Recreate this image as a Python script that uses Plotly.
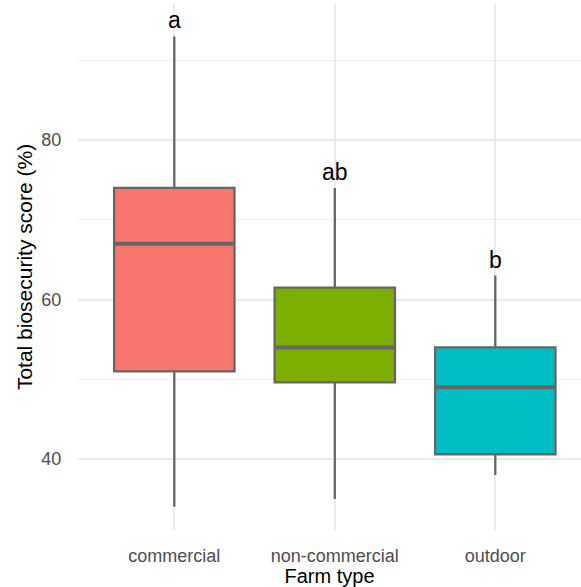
import plotly.graph_objects as go

# Summary statistics of total biosecurity score by farm type
farm_types = ["commercial", "non-commercial", "outdoor"]
lower_whisker = [34, 35, 38]
q1 = [51, 49.6, 40.6]
median = [67, 54, 49]
q3 = [74, 61.5, 54]
upper_whisker = [93, 74, 63]
group_letters = ["a", "ab", "b"]
fill_colors = ["#F8766D", "#7CAE00", "#00BFC4"]

FONT = "Liberation Sans, Arial, sans-serif"
EDGE = "#666666"
BOX_WIDTH = 0.75

fig = go.Figure()

for i, name in enumerate(farm_types):
    fig.add_trace(go.Box(
        x=[i],
        q1=[q1[i]],
        median=[median[i]],
        q3=[q3[i]],
        lowerfence=[lower_whisker[i]],
        upperfence=[upper_whisker[i]],
        width=BOX_WIDTH,
        whiskerwidth=0,
        fillcolor=fill_colors[i],
        line=dict(color=EDGE, width=2.3),
        boxpoints=False,
        name=name,
        showlegend=False,
        hoverinfo="skip",
    ))
    # thicker median bar, as in ggplot's fattened median
    fig.add_trace(go.Scatter(
        x=[i - BOX_WIDTH / 2, i + BOX_WIDTH / 2],
        y=[median[i], median[i]],
        mode="lines",
        line=dict(color=EDGE, width=4),
        showlegend=False,
        hoverinfo="skip",
    ))
    fig.add_annotation(
        x=i, y=upper_whisker[i], text=group_letters[i],
        showarrow=False, yanchor="bottom", yshift=1,
        font=dict(family=FONT, size=23, color="black"),
    )

fig.update_layout(
    width=581, height=587,
    margin=dict(l=78, r=0, t=4, b=57),
    paper_bgcolor="white", plot_bgcolor="white",
    font=dict(family=FONT),
    boxmode="overlay",
)

fig.update_xaxes(
    range=[-0.6, 2.534],
    tickmode="array", tickvals=list(range(len(farm_types))), ticktext=farm_types,
    showgrid=True, gridcolor="#EBEBEB", gridwidth=2,
    zeroline=False, showline=False,
    ticks="outside", ticklen=9, tickcolor="rgba(0,0,0,0)",
    tickfont=dict(family=FONT, size=18, color="#4D4D4D"),
    title=dict(text="Farm type", font=dict(family=FONT, size=20, color="black"), standoff=7),
)

fig.update_yaxes(
    range=[31.1, 97.06],
    tickmode="array", tickvals=[40, 60, 80],
    showgrid=True, gridcolor="#EBEBEB", gridwidth=2,
    minor=dict(tickvals=[50, 70, 90], showgrid=True, gridcolor="#EFEFEF", gridwidth=1.2),
    zeroline=False, showline=False,
    ticks="outside", ticklen=12, tickcolor="rgba(0,0,0,0)",
    tickfont=dict(family=FONT, size=18, color="#4D4D4D"),
    title=dict(text="Total biosecurity score (%)", font=dict(family=FONT, size=21, color="black"), standoff=3),
)

fig.write_html("out.html")
